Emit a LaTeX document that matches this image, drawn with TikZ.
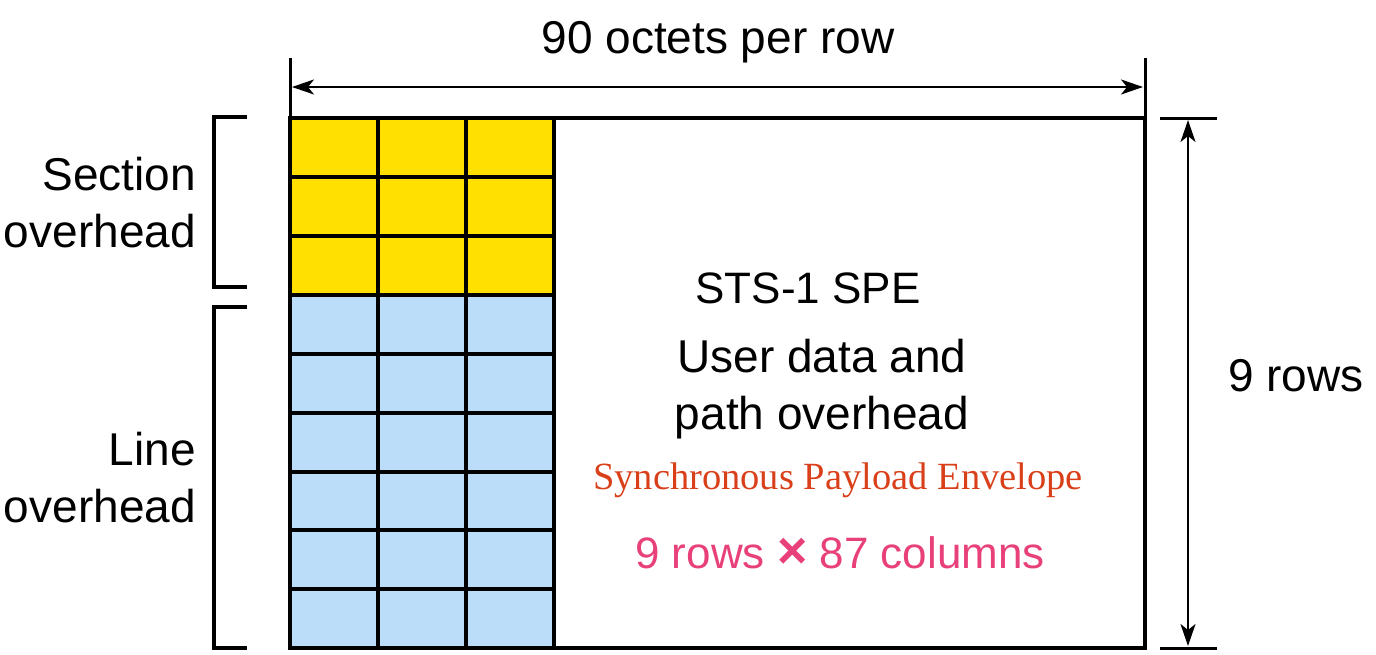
\documentclass[tikz,border=0pt]{standalone}
\usepackage{fontspec}
\setmainfont{Liberation Sans}
\newfontfamily\serifont{Liberation Serif}
\usetikzlibrary{arrows.meta}
\definecolor{secyellow}{HTML}{FFE000}
\definecolor{lineblue}{HTML}{BBDDFA}
\definecolor{speorange}{HTML}{D9401A}
\definecolor{spepink}{HTML}{E8407A}
\begin{document}
\begin{tikzpicture}[x=1pt,y=-1pt,
  cellline/.style={line width=3.4pt, line cap=rect},
  dimline/.style={line width=3pt},
  dimarrow/.style={line width=2.2pt, {Stealth[length=22pt,width=15pt,inset=6pt]}-{Stealth[length=22pt,width=15pt,inset=6pt]}},
  brack/.style={line width=3.4pt},
  lbl/.style={font=\fontsize{46}{57}\selectfont, inner sep=0pt},
  lbltwo/.style={font=\fontsize{46}{57}\selectfont, inner sep=0pt, align=right}
]
\useasboundingbox (0,0) rectangle (1376,654);
% cells
\fill[secyellow] (290,118) rectangle (554,295);
\fill[lineblue] (290,295) rectangle (554,648);
\foreach \y in {177,236,295,354,413,472,530,589}
  \draw[cellline] (290,\y) -- (554,\y);
\foreach \x in {378,466,554}
  \draw[cellline] (\x,118) -- (\x,648);
\draw[cellline] (290,118) rectangle (1145,648);
% top dimension
\coordinate (tl) at (290,58);
\coordinate (tr) at (1145,58);
\draw[dimline] (tl) -- (290,118);
\draw[dimline] (tr) -- (1145,118);
\coordinate (al) at (292,87);
\coordinate (ar) at (1143,87);
\draw[dimarrow] (al) -- (ar);
\node[lbl] (octets) at (718,42) {90 octets per row};
% right dimension
\coordinate (rt1) at (1160,118);
\coordinate (rt2) at (1217,118);
\coordinate (rb1) at (1160,648);
\coordinate (rb2) at (1217,648);
\draw[dimline] (rt1) -- (rt2);
\draw[dimline] (rb1) -- (rb2);
\coordinate (vt) at (1188,120);
\coordinate (vb) at (1188,646);
\draw[dimarrow] (vt) -- (vb);
\node[lbl] (rows) at (1296,376) {9 rows};
% left brackets
\draw[brack] (247,117) -- (214,117) -- (214,287) -- (247,287);
\draw[brack] (247,307) -- (214,307) -- (214,648) -- (247,648);
\node[lbltwo, anchor=east] (sec) at (196,203) {Section\\overhead};
\node[lbltwo, anchor=east] (line) at (196,478) {Line\\overhead};
% SPE texts
\node[inner sep=0pt, font=\fontsize{44}{53}\selectfont] (sts) at (808,288) {STS-1 SPE};
\node[lbl, align=center] (user) at (822,389) {User data and\\path overhead};
\node[inner sep=0pt, text=spepink, font=\fontsize{44}{52}\selectfont] (dim) at (840,553) {9 rows {\fontsize{52}{52}\selectfont\bfseries ×} 87 columns};
\node[inner sep=0pt, text=speorange, font=\serifont\fontsize{38.5}{46}\selectfont] (syn) at (838,480) {Synchronous Payload Envelope};
\end{tikzpicture}
\end{document}
